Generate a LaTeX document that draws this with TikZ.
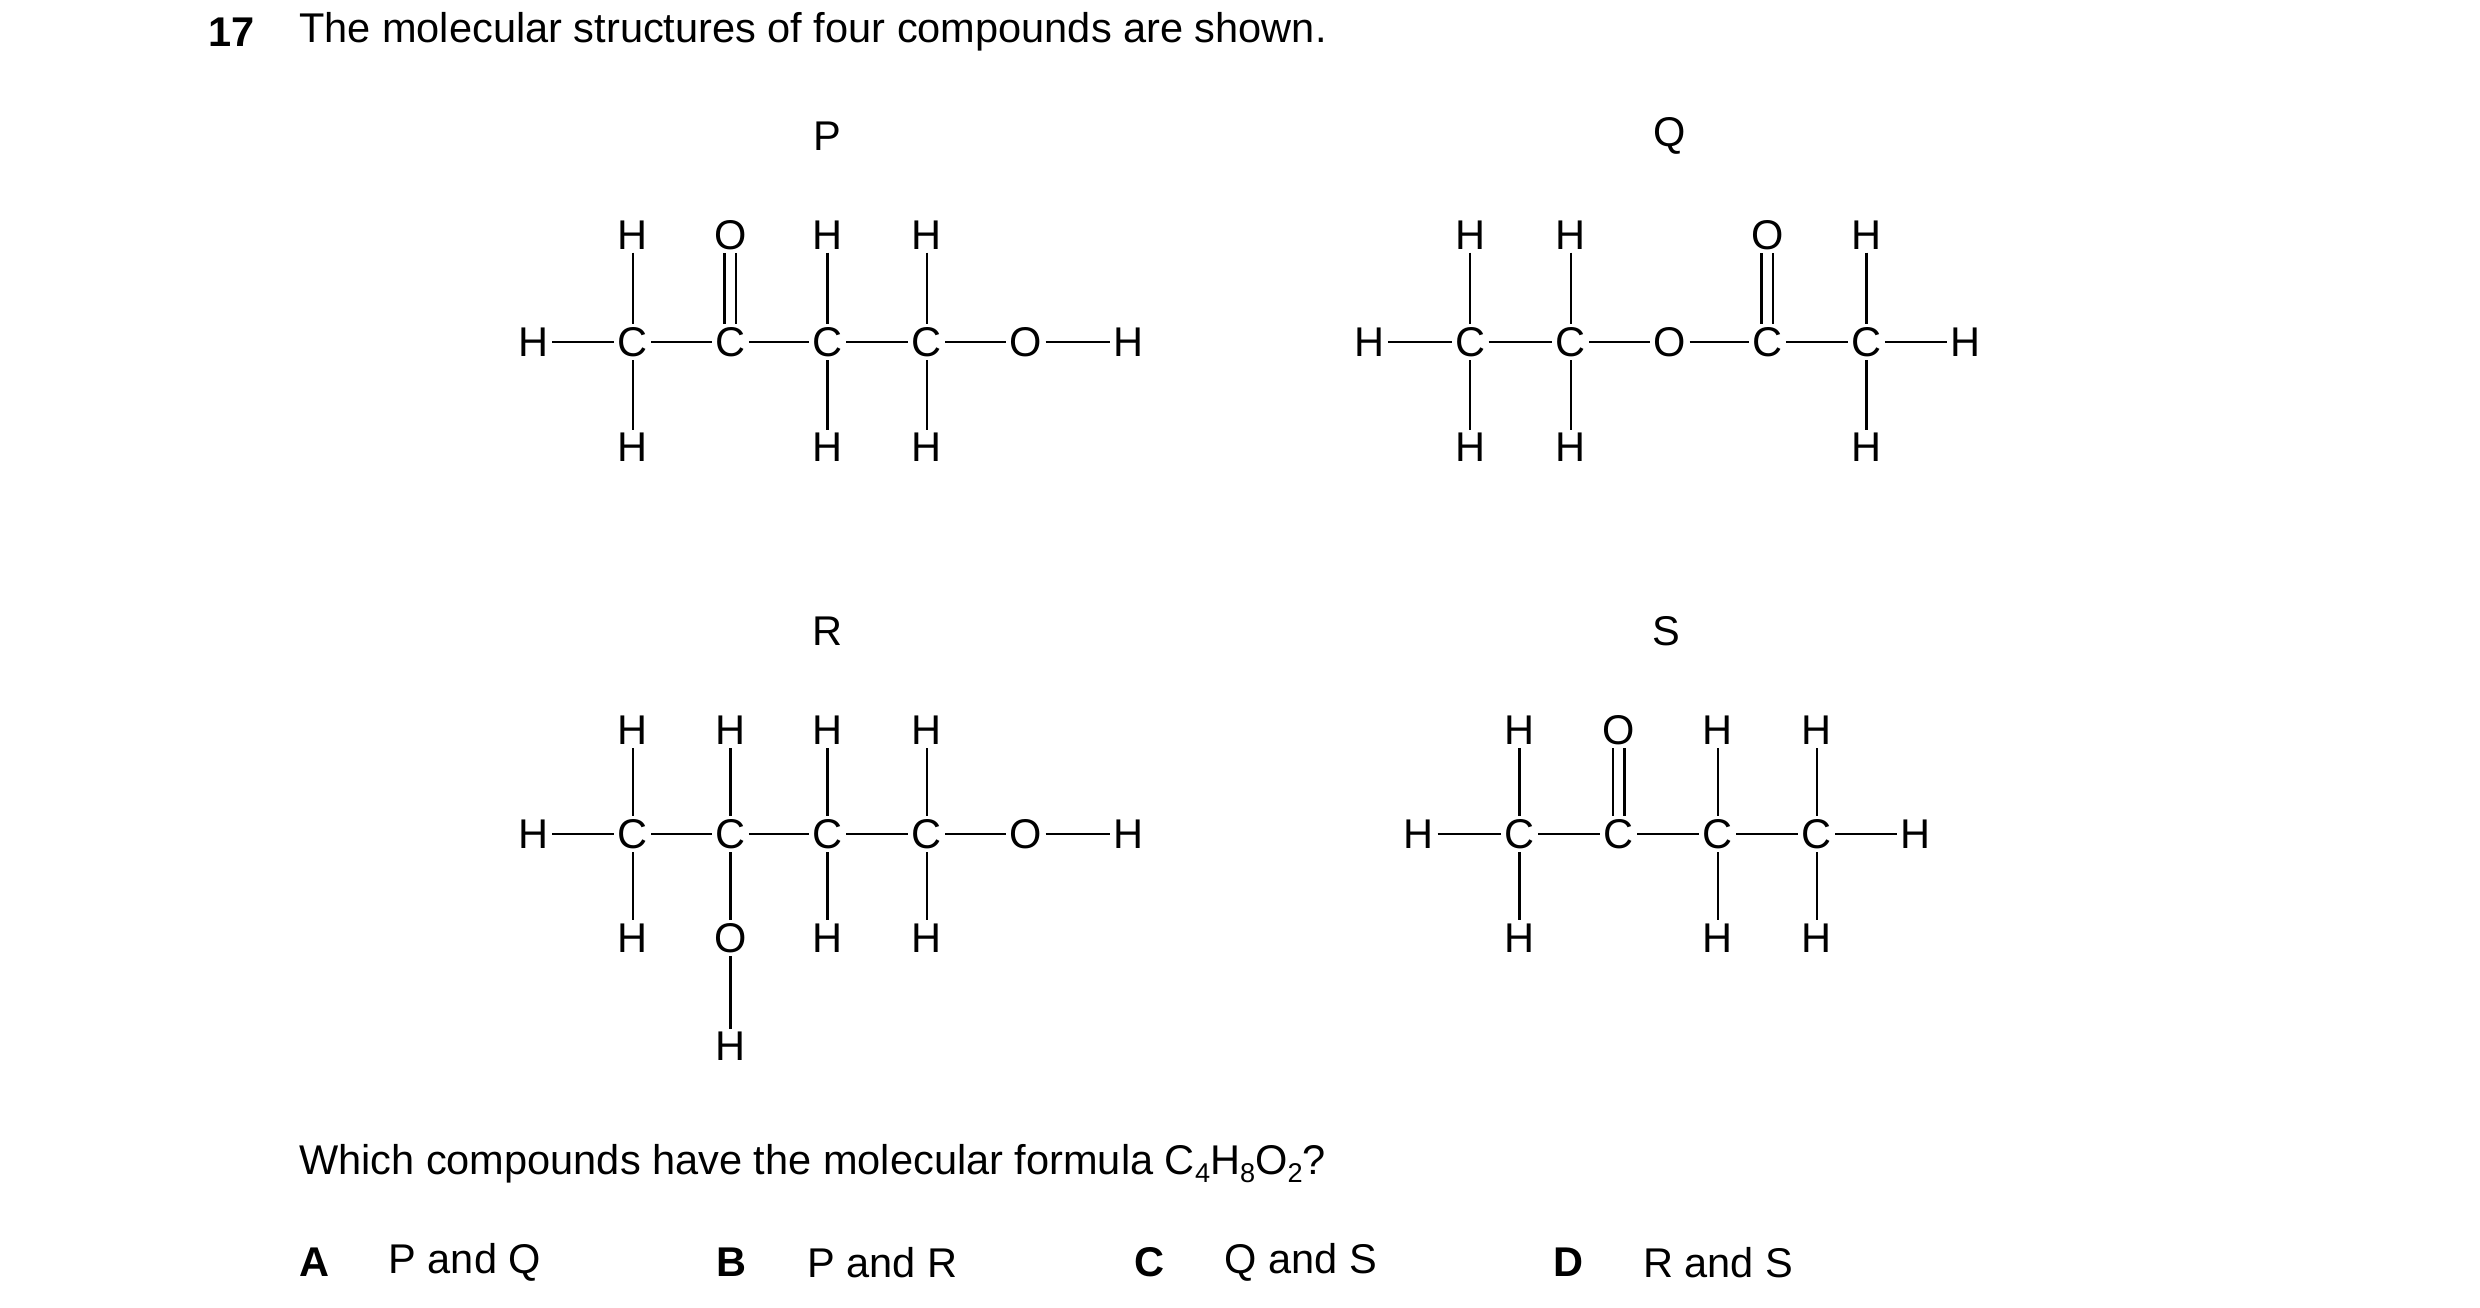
\documentclass[tikz,border=0pt]{standalone}
\usepackage{fontspec}
\setmainfont{Liberation Sans}
\newcommand{\mysub}[1]{\raisebox{-5pt}{\fontsize{17}{17}\selectfont #1}}
\begin{document}
\begin{tikzpicture}[x=1pt,y=-1pt,
  atm/.style={inner sep=2pt,font=\fontsize{26}{26}\selectfont},
  bd/.style={line width=1.6pt},
  tx/.style={anchor=west,inner sep=0pt,font=\fontsize{26}{30}\selectfont}]
\useasboundingbox (0,0) rectangle (1552,818);
\newcommand{\A}[4]{\node[atm] (#1) at (#2,#3) {#4};}
\newcommand{\dbl}[2]{\draw[bd] ([xshift=-3.5pt]#1.north) -- ([xshift=-3.5pt]#2.south); \draw[bd] ([xshift=3.5pt]#1.north) -- ([xshift=3.5pt]#2.south);}
\node[tx] (n17) at (130,20) {\textbf{17}};
\node[tx] (t1) at (187,20) {The molecular structures of four compounds are shown.};
% P
\node[atm] (lp) at (518,85) {P};
\A{pH0}{334}{214}{H}\A{pC1}{396}{214}{C}\A{pC2}{457}{214}{C}\A{pC3}{518}{214}{C}\A{pC4}{580}{214}{C}\A{pO}{642}{214}{O}\A{pH9}{706}{214}{H}
\A{pt1}{396}{147}{H}\A{pt2}{457}{147}{O}\A{pt3}{518}{147}{H}\A{pt4}{580}{147}{H}
\A{pb1}{396}{280}{H}\A{pb3}{518}{280}{H}\A{pb4}{580}{280}{H}
\draw[bd] (pH0)--(pC1)--(pC2)--(pC3)--(pC4)--(pO)--(pH9);
\draw[bd] (pt1)--(pC1) (pt3)--(pC3) (pt4)--(pC4) (pC1)--(pb1) (pC3)--(pb3) (pC4)--(pb4);
\dbl{pC2}{pt2}
% Q
\node[atm] (lq) at (1045,85) {Q};
\A{qH0}{857}{214}{H}\A{qC1}{920}{214}{C}\A{qC2}{983}{214}{C}\A{qO}{1045}{214}{O}\A{qC3}{1106}{214}{C}\A{qC4}{1168}{214}{C}\A{qH9}{1230}{214}{H}
\A{qt1}{920}{147}{H}\A{qt2}{983}{147}{H}\A{qt3}{1106}{147}{O}\A{qt4}{1168}{147}{H}
\A{qb1}{920}{280}{H}\A{qb2}{983}{280}{H}\A{qb4}{1168}{280}{H}
\draw[bd] (qH0)--(qC1)--(qC2)--(qO)--(qC3)--(qC4)--(qH9);
\draw[bd] (qt1)--(qC1) (qt2)--(qC2) (qt4)--(qC4) (qC1)--(qb1) (qC2)--(qb2) (qC4)--(qb4);
\dbl{qC3}{qt3}
% R
\node[atm] (lr) at (518,395) {R};
\A{rH0}{334}{522}{H}\A{rC1}{396}{522}{C}\A{rC2}{457}{522}{C}\A{rC3}{518}{522}{C}\A{rC4}{580}{522}{C}\A{rO}{642}{522}{O}\A{rH9}{706}{522}{H}
\A{rt1}{396}{457}{H}\A{rt2}{457}{457}{H}\A{rt3}{518}{457}{H}\A{rt4}{580}{457}{H}
\A{rb1}{396}{587}{H}\A{rb2}{457}{587}{O}\A{rb3}{518}{587}{H}\A{rb4}{580}{587}{H}\A{rbb}{457}{655}{H}
\draw[bd] (rH0)--(rC1)--(rC2)--(rC3)--(rC4)--(rO)--(rH9);
\draw[bd] (rt1)--(rC1) (rt2)--(rC2) (rt3)--(rC3) (rt4)--(rC4) (rC1)--(rb1) (rC2)--(rb2) (rC3)--(rb3) (rC4)--(rb4) (rb2)--(rbb);
% S
\node[atm] (ls) at (1043,395) {S};
\A{sH0}{888}{522}{H}\A{sC1}{951}{522}{C}\A{sC2}{1013}{522}{C}\A{sC3}{1075}{522}{C}\A{sC4}{1137}{522}{C}\A{sH9}{1199}{522}{H}
\A{st1}{951}{457}{H}\A{st2}{1013}{457}{O}\A{st3}{1075}{457}{H}\A{st4}{1137}{457}{H}
\A{sb1}{951}{587}{H}\A{sb3}{1075}{587}{H}\A{sb4}{1137}{587}{H}
\draw[bd] (sH0)--(sC1)--(sC2)--(sC3)--(sC4)--(sH9);
\draw[bd] (st1)--(sC1) (st3)--(sC3) (st4)--(sC4) (sC1)--(sb1) (sC3)--(sb3) (sC4)--(sb4);
\dbl{sC2}{st2}
% question
\node[tx] (q) at (187,728) {Which compounds have the molecular formula C\mysub{4}H\mysub{8}O\mysub{2}?};
\node[tx] (a) at (187,790) {\textbf{A}};\node[tx] (a2) at (243,790) {P and Q};
\node[tx] (b) at (448,790) {\textbf{B}};\node[tx] (b2) at (505,790) {P and R};
\node[tx] (c) at (710,790) {\textbf{C}};\node[tx] (c2) at (766,790) {Q and S};
\node[tx] (d) at (972,790) {\textbf{D}};\node[tx] (d2) at (1028,790) {R and S};
\end{tikzpicture}
\end{document}
